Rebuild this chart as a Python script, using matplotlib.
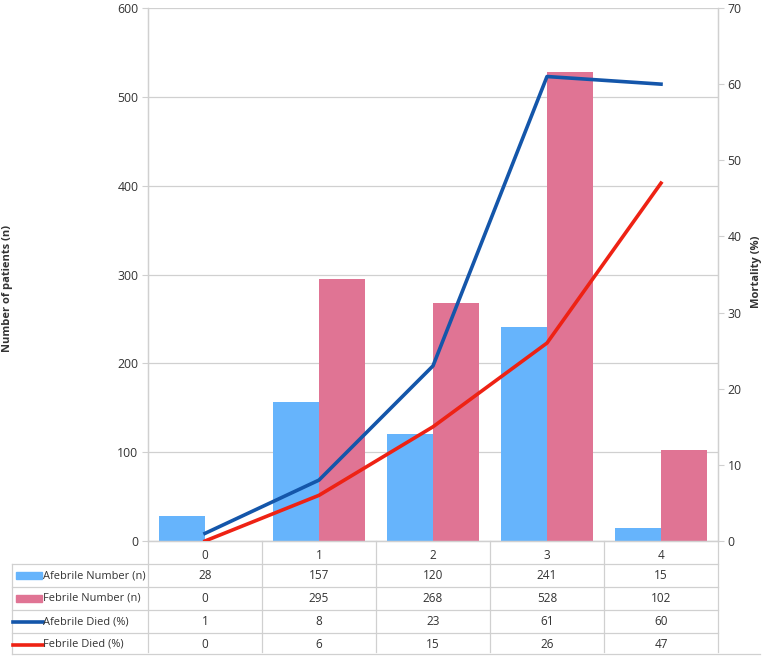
import numpy as np
import matplotlib.pyplot as plt
from matplotlib.lines import Line2D
from matplotlib.patches import Rectangle

plt.rcParams['font.family'] = ['Open Sans', 'DejaVu Sans']

categories = ['0', '1', '2', '3', '4']
afebrile_n = [28, 157, 120, 241, 15]
febrile_n = [0, 295, 268, 528, 102]
afebrile_died = [1, 8, 23, 61, 60]
febrile_died = [0, 6, 15, 26, 47]
row_labels = ['Afebrile Number (n)', 'Febrile Number (n)',
              'Afebrile Died (%)', 'Febrile Died (%)']

c_blue_bar = '#66b4fc'
c_pink_bar = '#e07494'
c_blue_line = '#1456aa'
c_red_line = '#ee2214'
c_grid = '#d0d0d0'
c_text = '#333333'

W, H = 764, 657
fig = plt.figure(figsize=(W / 100, H / 100), dpi=100)
# plot area in pixels: x 148..718, y 8..541
ax = fig.add_axes([148 / W, 1 - 541 / H, 570 / W, 533 / H])
ax2 = ax.twinx()

x = np.arange(len(categories))
bw = 0.4
ax.bar(x - bw / 2, afebrile_n, bw, color=c_blue_bar, zorder=2)
ax.bar(x + bw / 2, febrile_n, bw, color=c_pink_bar, zorder=2)
ax2.plot(x, afebrile_died, color=c_blue_line, lw=2.6, zorder=3)
ax2.plot(x, febrile_died, color=c_red_line, lw=2.6, zorder=3)

ax.set_xlim(-0.5, len(categories) - 0.5)
ax.set_ylim(0, 600)
ax.set_yticks(np.arange(0, 601, 100))
ax2.set_ylim(0, 70)
ax2.set_yticks(np.arange(0, 71, 10))
ax.yaxis.grid(True, color=c_grid, lw=0.9, zorder=0)
ax.set_axisbelow(True)

ax.set_xticks(x)
ax.set_xticklabels(categories)
ax.tick_params(axis='x', length=0, pad=6, labelsize=8.5, labelcolor=c_text)
ax.tick_params(axis='y', length=4, color=c_grid, pad=3, labelsize=8.8, labelcolor=c_text)
ax2.tick_params(axis='y', length=4, color=c_grid, pad=3, labelsize=8.8, labelcolor=c_text)

for a in (ax, ax2):
    a.spines['top'].set_visible(False)
    for s in ('left', 'right', 'bottom'):
        a.spines[s].set_color(c_grid)
        a.spines[s].set_linewidth(0.9)

fig.text(8 / W, 1 - 288 / H, 'Number of patients (n)', rotation=90,
         ha='center', va='center', fontsize=8, fontweight='bold', color=c_text)
fig.text(757 / W, 1 - 272 / H, 'Mortality (%)', rotation=90,
         ha='center', va='center', fontsize=8, fontweight='bold', color=c_text)

# data table below the axis
def ay(py):
    return (541 - py) / 533

tr = ax.get_xaxis_transform()
row_top = [564, 587, 610, 633]
row_h = 23
left_px = 12

# vertical column lines at category boundaries
for b in np.arange(-0.5, len(categories), 1.0):
    ax.add_line(Line2D([b, b], [ay(541), ay(652)], transform=tr,
                       color=c_grid, lw=0.9, clip_on=False))
# horizontal lines
for py in row_top:
    fig.add_artist(Line2D([left_px / W, 718 / W], [1 - py / H, 1 - py / H],
                          color=c_grid, lw=0.9))
fig.add_artist(Line2D([left_px / W, 760 / W], [1 - 654 / H, 1 - 654 / H],
                      color=c_grid, lw=0.9))
fig.add_artist(Line2D([left_px / W, left_px / W], [1 - 564 / H, 1 - 654 / H],
                      color=c_grid, lw=0.9))

rows = [afebrile_n, febrile_n, afebrile_died, febrile_died]
for r, vals in enumerate(rows):
    yc = row_top[r] + row_h / 2
    for i, v in enumerate(vals):
        ax.text(x[i], ay(yc), str(v), transform=tr, ha='center', va='center',
                fontsize=8.5, color=c_text)
    fig.text(43 / W, 1 - yc / H, row_labels[r], ha='left', va='center',
             fontsize=7.9, color=c_text)

# legend keys in the row headers
for r, col in enumerate([c_blue_bar, c_pink_bar]):
    yc = row_top[r] + row_h / 2
    fig.add_artist(Rectangle((16 / W, 1 - (yc + 3.5) / H), 26 / W, 7 / H,
                             transform=fig.transFigure, color=col))
for r, col in zip([2, 3], [c_blue_line, c_red_line]):
    yc = row_top[r] + row_h / 2
    fig.add_artist(Line2D([13 / W, 43 / W], [1 - yc / H, 1 - yc / H],
                          color=col, lw=2.6))

fig.savefig('out.png', dpi=100)
